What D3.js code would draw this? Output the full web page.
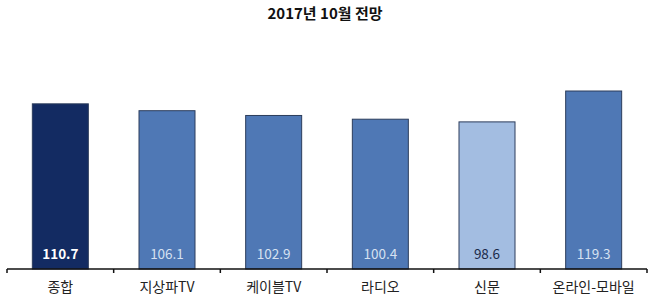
<!DOCTYPE html>
<html>
<head>
<meta charset="utf-8">
<script src="https://cdn.jsdelivr.net/npm/d3@7"></script>
<style>
  body { margin: 0; background: #fff; }
  text { font-family: "Liberation Sans Narrow", "Noto Sans CJK KR", sans-serif; }
</style>
</head>
<body>
<svg id="chart" width="650" height="300"></svg>
<script>
var categories = ["종합", "지상파TV", "케이블TV", "라디오", "신문", "온라인-모바일"];
var values = [110.7, 106.1, 102.9, 100.4, 98.6, 119.3];
var barColors = ["#132b62", "#4f78b5", "#4f78b5", "#4f78b5", "#a3bde1", "#4f78b5"];
var labelColors = ["#ffffff", "#d6e1f1", "#d6e1f1", "#d6e1f1", "#1b2b4b", "#d6e1f1"];
var title = "2017년 10월 전망";

var svg = d3.select("#chart"),
    baseY = 269;

var x = d3.scaleBand()
    .domain(categories)
    .range([7, 647])
    .paddingInner(0.475)
    .paddingOuter(0.2375);

var y = d3.scaleLinear()
    .domain([0, 130])
    .range([baseY, baseY - 130 * 1.492]);

svg.append("text")
    .attr("x", 325)
    .attr("y", 19)
    .attr("text-anchor", "middle")
    .attr("font-size", 15)
    .attr("font-weight", "bold")
    .attr("fill", "#111")
    .text(title);

var bar = svg.selectAll(".bar")
  .data(categories)
  .enter().append("g")
    .attr("class", "bar");

bar.append("rect")
    .attr("x", function(d) { return x(d); })
    .attr("y", function(d, i) { return y(values[i]); })
    .attr("width", x.bandwidth())
    .attr("height", function(d, i) { return baseY - y(values[i]); })
    .attr("fill", function(d, i) { return barColors[i]; })
    .attr("stroke", "#2c3d5c")
    .attr("stroke-width", 1);

bar.append("text")
    .attr("x", function(d) { return x(d) + x.bandwidth() / 2; })
    .attr("y", baseY - 10)
    .attr("text-anchor", "middle")
    .attr("font-size", 13.5)
    .attr("font-weight", function(d, i) { return i === 0 ? "bold" : "normal"; })
    .attr("fill", function(d, i) { return labelColors[i]; })
    .text(function(d, i) { return values[i].toFixed(1); });

// axis with ticks at band boundaries
var edges = categories.map(function(d) { return x(d) - x.step() * x.paddingInner() / 2; });
edges.push(647);

svg.append("line")
    .attr("x1", 7).attr("x2", 647)
    .attr("y1", baseY).attr("y2", baseY)
    .attr("stroke", "#111")
    .attr("stroke-width", 1.5);

svg.selectAll(".tick")
  .data(edges)
  .enter().append("line")
    .attr("class", "tick")
    .attr("x1", function(d) { return d; }).attr("x2", function(d) { return d; })
    .attr("y1", baseY).attr("y2", baseY + 4)
    .attr("stroke", "#111")
    .attr("stroke-width", 1.5);

svg.selectAll(".cat")
  .data(categories)
  .enter().append("text")
    .attr("class", "cat")
    .attr("x", function(d) { return x(d) + x.bandwidth() / 2; })
    .attr("y", 292)
    .attr("text-anchor", "middle")
    .attr("font-size", 14)
    .attr("fill", "#222")
    .text(function(d) { return d; });
</script>
</body>
</html>
